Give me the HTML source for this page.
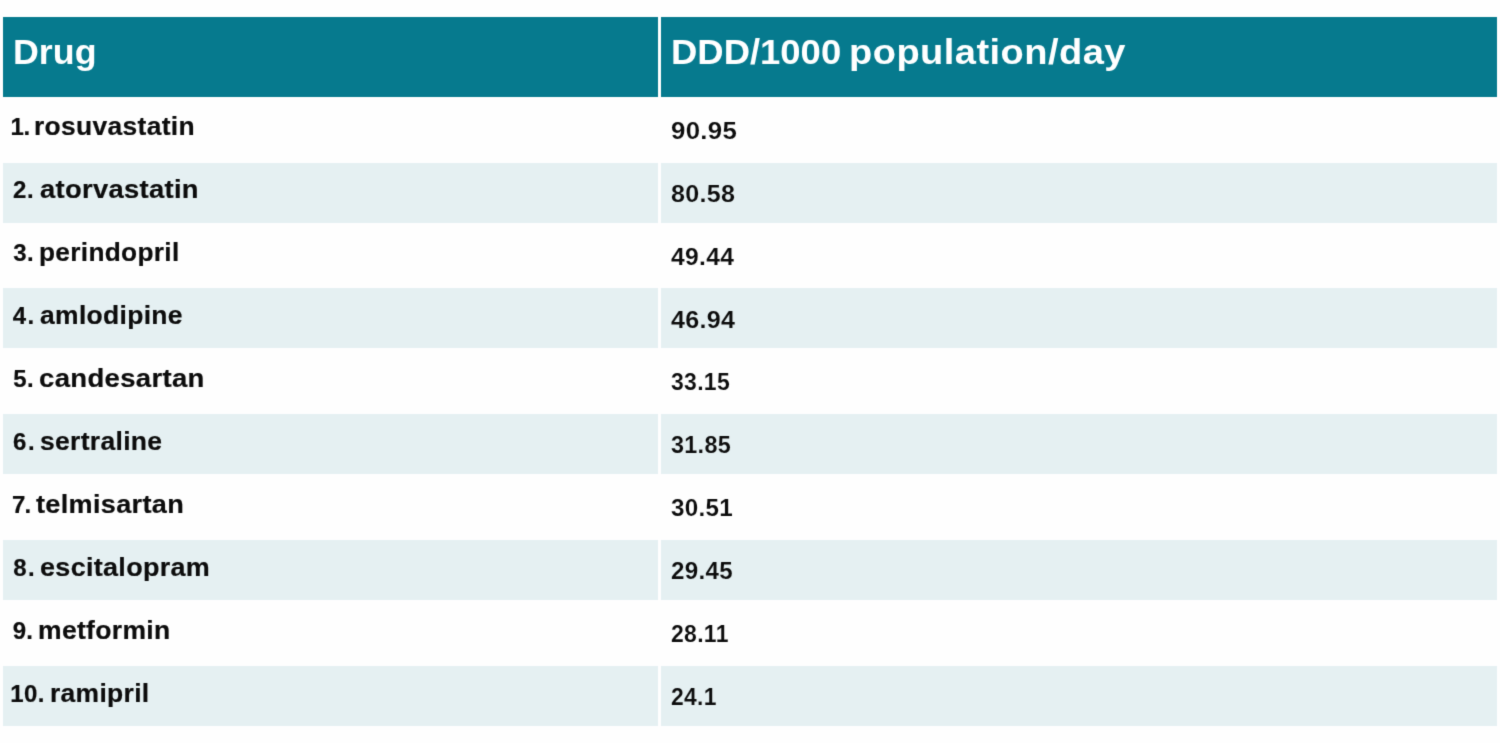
<!DOCTYPE html>
<html lang="en">
<head>
<meta charset="utf-8">
<title>Top 10 drugs by DDD/1000 population/day</title>
<style>
html,body{margin:0;padding:0;background:#fefefe;}
body{width:1500px;height:743px;overflow:hidden;position:relative;font-family:"Liberation Sans",sans-serif;color:#0c0c0c;}
table,thead,tbody,tr,th,td{display:block;margin:0;padding:0;border:0;font:inherit;text-align:left;}
.tbl{position:absolute;left:0;top:0;width:1500px;height:743px;background:#fefefe;filter:url(#soft);}
.row{position:absolute;left:0;width:1500px;}
.row>th,.row>td{position:absolute;top:0;height:100%;}
.head>th{background:#067a8e;color:#fff;}
.alt>td{background:#e5f0f2;}
.t{position:absolute;white-space:nowrap;font-weight:700;line-height:1;transform-origin:0 0;}
.hd{font-size:34.5px;top:18.4px;}
.nm,.wd{font-size:25px;-webkit-text-stroke:0.2px currentColor;}
.nm{font-size:24px;margin-top:1px;}
.vl{font-size:23.5px;-webkit-text-stroke:0.1px #fefefe;}
.alt .vl{-webkit-text-stroke-color:#e5f0f2;}
</style>
</head>
<body>
<svg width="0" height="0" style="position:absolute" aria-hidden="true"><defs><filter id="soft" x="0" y="0" width="100%" height="100%" color-interpolation-filters="sRGB"><feConvolveMatrix order="3" kernelMatrix="1 6 1 6 36 6 1 6 1" edgeMode="duplicate" preserveAlpha="true"/></filter></defs></svg>
<table class="tbl" aria-label="Top 10 drugs by DDD/1000 population/day">
<thead>
<tr class="row head" style="top:17px;height:80px"><th class="c1" scope="col" style="left:3px;width:654.5px"><span class="t hd" id="h1" style="left:10.21px;transform:scaleX(1.0381);">Drug</span></th><th class="c2" scope="col" style="left:661px;width:836px"><span class="t hd" id="h2a" style="left:10.30px;transform:scaleX(1.0563);">DDD/1000</span> <span class="t hd" id="h2b" style="left:187.68px;letter-spacing:0.40px;transform:scaleX(1.1034);">population/day</span></th></tr>
</thead>
<tbody>
<tr class="row body" style="top:100px;height:60px"><td class="c1" style="left:3px;width:654.5px"><span class="t nm" id="r1n" style="left:7.53px;top:14px;letter-spacing:-0.28px;">1.</span> <span class="t wd" id="r1w" style="left:31.20px;top:14px;letter-spacing:0.30px;transform:scaleX(1.0566);">rosuvastatin</span></td><td class="c2" style="left:661px;width:836px"><span class="t vl" id="r1v" style="left:9.70px;top:20px;letter-spacing:0.30px;transform:scaleX(1.0980);">90.95</span></td></tr>
<tr class="row body alt" style="top:163px;height:60px"><td class="c1" style="left:3px;width:654.5px"><span class="t nm" id="r2n" style="left:9.89px;top:14px;letter-spacing:0.73px;">2.</span> <span class="t wd" id="r2w" style="left:36.83px;top:14px;letter-spacing:0.30px;transform:scaleX(1.0933);">atorvastatin</span></td><td class="c2" style="left:661px;width:836px"><span class="t vl" id="r2v" style="left:9.73px;top:20px;letter-spacing:0.30px;transform:scaleX(1.0670);">80.58</span></td></tr>
<tr class="row body" style="top:226px;height:60px"><td class="c1" style="left:3px;width:654.5px"><span class="t nm" id="r3n" style="left:10.16px;top:14px;letter-spacing:0.49px;">3.</span> <span class="t wd" id="r3w" style="left:35.56px;top:14px;letter-spacing:0.30px;transform:scaleX(1.0499);">perindopril</span></td><td class="c2" style="left:661px;width:836px"><span class="t vl" id="r3v" style="left:10.21px;top:20px;letter-spacing:0.30px;transform:scaleX(1.0482);">49.44</span></td></tr>
<tr class="row body alt" style="top:288px;height:60px"><td class="c1" style="left:3px;width:654.5px"><span class="t nm" id="r4n" style="left:9.68px;top:15px;letter-spacing:1.45px;">4.</span> <span class="t wd" id="r4w" style="left:36.64px;top:15px;letter-spacing:0.30px;transform:scaleX(1.0587);">amlodipine</span></td><td class="c2" style="left:661px;width:836px"><span class="t vl" id="r4v" style="left:9.87px;top:21px;letter-spacing:0.30px;transform:scaleX(1.0671);">46.94</span></td></tr>
<tr class="row body" style="top:351px;height:60px"><td class="c1" style="left:3px;width:654.5px"><span class="t nm" id="r5n" style="left:10.24px;top:15px;letter-spacing:0.42px;">5.</span> <span class="t wd" id="r5w" style="left:35.92px;top:15px;letter-spacing:0.30px;transform:scaleX(1.1001);">candesartan</span></td><td class="c2" style="left:661px;width:836px"><span class="t vl" id="r5v" style="left:10.29px;top:20px;letter-spacing:0.30px;transform:scaleX(0.9786);">33.15</span></td></tr>
<tr class="row body alt" style="top:414px;height:60px"><td class="c1" style="left:3px;width:654.5px"><span class="t nm" id="r6n" style="left:10.09px;top:15px;letter-spacing:1.51px;">6.</span> <span class="t wd" id="r6w" style="left:36.82px;top:15px;letter-spacing:0.30px;transform:scaleX(1.0591);">sertraline</span></td><td class="c2" style="left:661px;width:836px"><span class="t vl" id="r6v" style="left:9.97px;top:20px;letter-spacing:0.30px;transform:scaleX(0.9954);">31.85</span></td></tr>
<tr class="row body" style="top:477px;height:60px"><td class="c1" style="left:3px;width:654.5px"><span class="t nm" id="r7n" style="left:9.03px;top:15px;letter-spacing:-0.84px;">7.</span> <span class="t wd" id="r7w" style="left:33.34px;top:15px;letter-spacing:0.30px;transform:scaleX(1.0828);">telmisartan</span></td><td class="c2" style="left:661px;width:836px"><span class="t vl" id="r7v" style="left:9.90px;top:20px;letter-spacing:0.30px;transform:scaleX(1.0289);">30.51</span></td></tr>
<tr class="row body alt" style="top:540px;height:60px"><td class="c1" style="left:3px;width:654.5px"><span class="t nm" id="r8n" style="left:10.16px;top:15px;letter-spacing:1.49px;">8.</span> <span class="t wd" id="r8w" style="left:36.74px;top:15px;letter-spacing:0.30px;transform:scaleX(1.0781);">escitalopram</span></td><td class="c2" style="left:661px;width:836px"><span class="t vl" id="r8v" style="left:10.27px;top:20px;letter-spacing:0.30px;transform:scaleX(1.0271);">29.45</span></td></tr>
<tr class="row body" style="top:603px;height:60px"><td class="c1" style="left:3px;width:654.5px"><span class="t nm" id="r9n" style="left:9.76px;top:15px;letter-spacing:0.04px;">9.</span> <span class="t wd" id="r9w" style="left:34.95px;top:15px;letter-spacing:0.30px;transform:scaleX(1.0608);">metformin</span></td><td class="c2" style="left:661px;width:836px"><span class="t vl" id="r9v" style="left:10.20px;top:20px;letter-spacing:0.30px;transform:scaleX(0.9779);">28.11</span></td></tr>
<tr class="row body alt" style="top:666px;height:60px"><td class="c1" style="left:3px;width:654.5px"><span class="t nm" id="r10n" style="left:7.18px;top:15px;letter-spacing:0.40px;">10.</span> <span class="t wd" id="r10w" style="left:46.70px;top:15px;letter-spacing:0.30px;transform:scaleX(1.0572);">ramipril</span></td><td class="c2" style="left:661px;width:836px"><span class="t vl" id="r10v" style="left:9.99px;top:20px;letter-spacing:0.30px;transform:scaleX(0.9750);">24.1</span></td></tr>
</tbody>
</table>
</body>
</html>
